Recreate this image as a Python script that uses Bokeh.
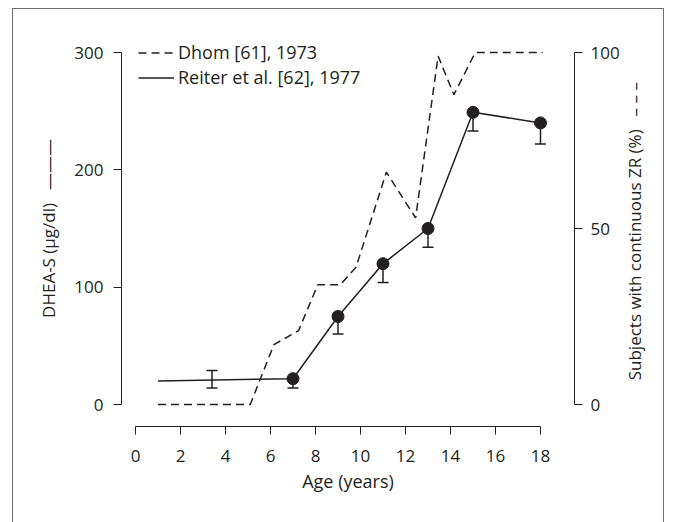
import math
from bokeh.plotting import figure
from bokeh.layouts import row
from bokeh.models import (Range1d, LinearAxis, FixedTicker, ColumnDataSource,
                          Whisker, TeeHead, Legend, LegendItem, Label)
from bokeh.embed import file_html
from bokeh.resources import INLINE

# ---------------- data ----------------
dhom_age = [1, 5.1, 6.15, 7.25, 8.1, 9.1, 9.8, 11.15, 12.45, 13.45, 14.15, 15.1, 18.1]
dhom_pct = [0, 0, 17, 21, 34, 34, 39, 66, 53, 99, 88, 100, 100]

reiter_line_age = [1, 7, 9, 11, 13, 15, 18]
reiter_line_val = [20, 22, 75, 120, 150, 249, 240]

reiter_pt_age = [7, 9, 11, 13, 15, 18]
reiter_pt_val = [22, 75, 120, 150, 249, 240]
reiter_pt_low = [14, 60, 104, 134, 233, 222]

young_age = [3.4]
young_low = [14]
young_high = [29]

x_ticks = [0, 2, 4, 6, 8, 10, 12, 14, 16, 18]
left_ticks = [0, 100, 200, 300]
right_ticks = [0, 50, 100]

left_title = "DHEA-S (\u00b5g/dl)\u2002 \u2014\u2014\u2014"
right_title = "Subjects with continuous ZR (%)\u2002 \u2013 \u2013 \u2013"
x_title = "Age (years)"
legend_labels = ["Dhom [61], 1973", "Reiter et al. [62], 1977"]

# ---------------- style ----------------
INK = "#231f20"
FRAME_INK = "#6d6e71"
FONT = "Open Sans"
FS = "18px"
FS_VTITLE = "17px"
FS_TICK = "17px"

# ---------------- geometry (pixels) ----------------
FRAME_W, FRAME_H = 453, 396
PX_PER_YEAR = 22.5
PX_PER_UNIT = 352 / 300.0
x_start = -14 / PX_PER_YEAR
x_end = x_start + FRAME_W / PX_PER_YEAR
y_start = -22 / PX_PER_UNIT
y_end = y_start + FRAME_H / PX_PER_UNIT
TOP, BOTTOM = 21, 96
RIGHT_W = 40          # minimum space for right ticks + tick labels
SIDE_W = 41           # strip holding the right axis title

p = figure(frame_width=FRAME_W, frame_height=FRAME_H,
           min_border_left=108, min_border_top=TOP,
           min_border_right=RIGHT_W, min_border_bottom=BOTTOM,
           x_range=Range1d(x_start, x_end), y_range=Range1d(y_start, y_end),
           output_backend="svg", toolbar_location=None)
p.extra_y_ranges = {"pct": Range1d(y_start / 3.0, y_end / 3.0)}

p.xgrid.visible = False
p.ygrid.visible = False
p.outline_line_color = None
p.background_fill_color = "white"
p.border_fill_color = "white"

def style_axis(ax):
    ax.axis_line_color = INK
    ax.axis_line_width = 1
    ax.major_tick_line_color = INK
    ax.major_tick_out = 8
    ax.major_tick_in = 0
    ax.minor_tick_line_color = None
    ax.major_label_text_font = FONT
    ax.major_label_text_font_size = FS_TICK
    ax.major_label_text_color = INK
    ax.axis_label_text_font = FONT
    ax.axis_label_text_font_size = FS
    ax.axis_label_text_font_style = "normal"
    ax.axis_label_text_color = INK

# bottom axis
xa = p.xaxis[0]
style_axis(xa)
xa.ticker = FixedTicker(ticks=x_ticks)
xa.bounds = (x_ticks[0], x_ticks[-1])
xa.axis_label = x_title
xa.major_label_standoff = 15
xa.axis_label_standoff = 4

# left axis
ya = p.yaxis[0]
style_axis(ya)
ya.ticker = FixedTicker(ticks=left_ticks)
ya.bounds = (left_ticks[0], left_ticks[-1])
ya.axis_label = left_title
ya.axis_label_text_font_size = FS_VTITLE
ya.major_label_standoff = 10
ya.axis_label_standoff = 11

# right axis
ra = LinearAxis(y_range_name="pct")
style_axis(ra)
ra.ticker = FixedTicker(ticks=right_ticks)
ra.bounds = (right_ticks[0], right_ticks[-1])
ra.major_label_standoff = 8
ra.axis_label_standoff = 0
p.add_layout(ra, "right")

# ---------------- data glyphs ----------------
dhom_src = ColumnDataSource(dict(x=dhom_age, y=dhom_pct))
r_dhom = p.line("x", "y", source=dhom_src, y_range_name="pct",
                line_color=INK, line_width=1.5, line_dash="8 5")

r_line = p.line(reiter_line_age, reiter_line_val, line_color=INK, line_width=1.5)

pt_src = ColumnDataSource(dict(x=reiter_pt_age, y=reiter_pt_val, low=reiter_pt_low))
p.add_layout(Whisker(source=pt_src, base="x", lower="low", upper="y",
                     dimension="height", line_color=INK, line_width=1.5,
                     lower_head=TeeHead(size=11, line_color=INK, line_width=1.5),
                     upper_head=None))
yg_src = ColumnDataSource(dict(x=young_age, low=young_low, high=young_high))
p.add_layout(Whisker(source=yg_src, base="x", lower="low", upper="high",
                     dimension="height", line_color=INK, line_width=1.5,
                     lower_head=TeeHead(size=11, line_color=INK, line_width=1.5),
                     upper_head=TeeHead(size=11, line_color=INK, line_width=1.5)))
p.scatter("x", "y", source=pt_src, size=12, marker="circle",
          fill_color=INK, line_color=INK)

# ---------------- legend ----------------
LEG_ROW = 25
legend = Legend(items=[LegendItem(label=legend_labels[0], renderers=[r_dhom]),
                       LegendItem(label=legend_labels[1], renderers=[r_line])],
                location=(17, 336.5),
                padding=0, margin=0, spacing=0,
                glyph_width=36, glyph_height=LEG_ROW, label_height=LEG_ROW,
                label_standoff=4,
                label_text_font=FONT, label_text_font_size=FS, label_text_color=INK,
                background_fill_alpha=0, border_line_alpha=0)
p.add_layout(legend, "center")

# ---------------- strip with the right axis title (reads bottom-to-top) ----------------
H = TOP + FRAME_H + BOTTOM
side = figure(width=SIDE_W, height=H, x_range=Range1d(0, SIDE_W), y_range=Range1d(H, 0),
              min_border=0, output_backend="svg", toolbar_location=None)
side.axis.visible = False
side.xgrid.visible = False
side.ygrid.visible = False
side.outline_line_color = None
side.border_fill_color = "white"
side.background_fill_color = "white"
TITLE_CX = 12          # px from strip's left edge
TITLE_CY = 260         # px from strip's top edge
side.add_layout(Label(x=TITLE_CX, y=TITLE_CY, text=right_title, angle=math.pi / 2,
                      text_align="center", text_baseline="middle",
                      text_font=FONT, text_font_size=FS_VTITLE, text_color=INK))

layout = row(p, side, spacing=0,
             styles={"margin-left": "12px", "margin-top": "8px",
                     "border-left": "1px solid " + FRAME_INK,
                     "border-top": "1px solid " + FRAME_INK,
                     "border-right": "1px solid " + FRAME_INK,
                     "border-bottom": "0px solid white"})

open("out.html", "w").write(file_html(layout, INLINE))
